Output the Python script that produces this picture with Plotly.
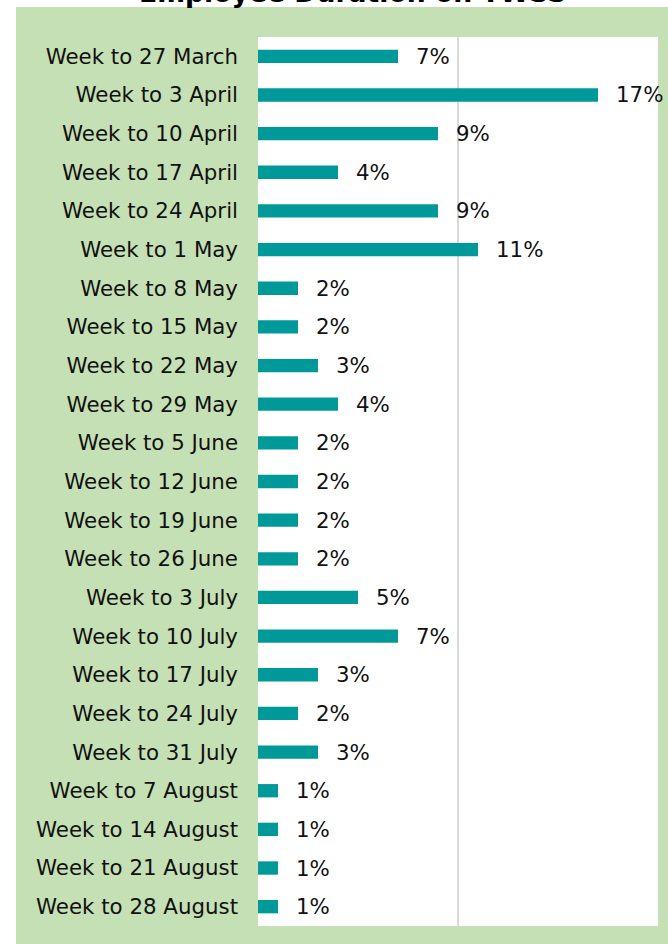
import plotly.graph_objects as go

categories = [
    "Week to 27 March", "Week to 3 April", "Week to 10 April", "Week to 17 April",
    "Week to 24 April", "Week to 1 May", "Week to 8 May", "Week to 15 May",
    "Week to 22 May", "Week to 29 May", "Week to 5 June", "Week to 12 June",
    "Week to 19 June", "Week to 26 June", "Week to 3 July", "Week to 10 July",
    "Week to 17 July", "Week to 24 July", "Week to 31 July", "Week to 7 August",
    "Week to 14 August", "Week to 21 August", "Week to 28 August",
]
values = [7, 17, 9, 4, 9, 11, 2, 2, 3, 4, 2, 2, 2, 2, 5, 7, 3, 2, 3, 1, 1, 1, 1]
value_labels = [f"{v}%" for v in values]
grid_ticks = [10, 20]
title_text = "Employee Duration on TWSS"

W, H = 668, 944
ML, MR, MT, MB = 258, 10, 37, 18
pw, ph = W - ML - MR, H - MT - MB

def px_x(p):
    return (p - ML) / pw

def px_y(p):
    return (H - MB - p) / ph

FONT = "DejaVu Sans, Verdana, sans-serif"

fig = go.Figure()
fig.add_trace(go.Bar(
    x=values, y=categories, orientation="h",
    marker=dict(color="#009999", line=dict(width=0)),
    hoverinfo="skip",
))

for c, v, t in zip(categories, values, value_labels):
    fig.add_annotation(
        x=v, y=c, xref="x", yref="y", text=t, showarrow=False,
        xanchor="left", yanchor="middle", xshift=16,
        font=dict(family=FONT, size=21.33, color="#111111"),
    )

# title (mostly cut off at the top like the reference)
fig.add_annotation(
    x=px_x(352), y=px_y(10), xref="paper", yref="paper",
    text="<b>" + title_text + "</b>", showarrow=False,
    xanchor="center", yanchor="bottom",
    font=dict(family=FONT, size=26.67, color="#000000"),
)

shapes = [
    dict(type="rect", xref="paper", yref="paper", layer="below",
         x0=px_x(16), x1=px_x(W + 20), y0=px_y(H + 20), y1=px_y(7),
         fillcolor="#C5E0B4", line=dict(width=0)),
    dict(type="rect", xref="paper", yref="paper", layer="below",
         x0=0, x1=1, y0=0, y1=1, fillcolor="#FFFFFF", line=dict(width=0)),
]

fig.update_layout(
    width=W, height=H,
    margin=dict(l=ML, r=MR, t=MT, b=MB, pad=0),
    paper_bgcolor="#FFFFFF", plot_bgcolor="#FFFFFF",
    showlegend=False,
    bargap=0.655,
    shapes=shapes,
    font=dict(family=FONT, size=21.33, color="#111111"),
    xaxis=dict(range=[0, 20], tickvals=grid_ticks, showticklabels=False,
               showgrid=True, gridcolor="#D9D9D9", gridwidth=1.5,
               zeroline=False, showline=False, ticks="", fixedrange=True),
    yaxis=dict(autorange="reversed", showgrid=False, zeroline=False,
               showline=False, ticks="", ticklabelstandoff=19,
               tickfont=dict(family=FONT, size=21.33, color="#111111"),
               fixedrange=True),
)

fig.write_html(
    "out.html",
    config={"displayModeBar": False},
    post_script="document.body.style.margin='0';document.documentElement.style.overflow='hidden';",
)
